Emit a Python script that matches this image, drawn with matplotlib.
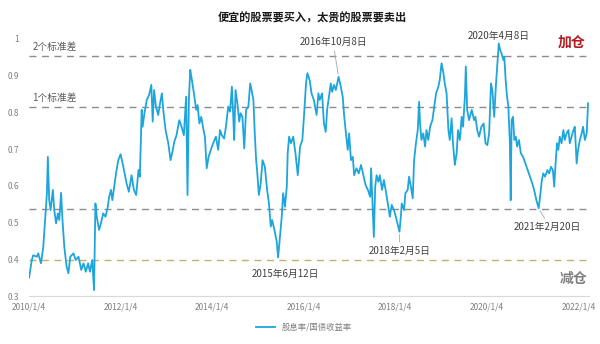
from datetime import datetime
import matplotlib
matplotlib.use("Agg")
import matplotlib.pyplot as plt
import matplotlib.dates as mdates

plt.rcParams['font.family'] = ['Noto Sans CJK SC', 'DejaVu Sans']

# dividend yield / bond yield ratio, sampled along the curve (decimal year, ratio)
years = [
    2010.01, 2010.07, 2010.10, 2010.18, 2010.21, 2010.27, 2010.32, 2010.36, 2010.40, 2010.42,
    2010.45, 2010.48, 2010.53, 2010.56, 2010.60, 2010.64, 2010.67, 2010.71, 2010.74, 2010.78,
    2010.83, 2010.87, 2010.91, 2010.98, 2011.03, 2011.09, 2011.15, 2011.20, 2011.25, 2011.30,
    2011.34, 2011.39, 2011.43, 2011.46, 2011.49, 2011.54, 2011.58, 2011.63, 2011.68, 2011.73,
    2011.76, 2011.80, 2011.83, 2011.87, 2011.91, 2011.96, 2012.01, 2012.07, 2012.14, 2012.19,
    2012.25, 2012.30, 2012.35, 2012.40, 2012.43, 2012.47, 2012.49, 2012.53, 2012.58, 2012.63,
    2012.68, 2012.71, 2012.74, 2012.78, 2012.83, 2012.87, 2012.91, 2012.94, 2012.99, 2013.05,
    2013.10, 2013.15, 2013.18, 2013.23, 2013.29, 2013.34, 2013.39, 2013.44, 2013.47, 2013.50,
    2013.53, 2013.56, 2013.61, 2013.66, 2013.69, 2013.73, 2013.77, 2013.82, 2013.85, 2013.89,
    2013.93, 2013.98, 2014.03, 2014.09, 2014.14, 2014.18, 2014.22, 2014.27, 2014.31, 2014.36,
    2014.40, 2014.44, 2014.47, 2014.49, 2014.52, 2014.56, 2014.60, 2014.63, 2014.67, 2014.71,
    2014.75, 2014.80, 2014.84, 2014.87, 2014.91, 2014.94, 2014.97, 2014.99, 2015.03, 2015.07,
    2015.11, 2015.16, 2015.21, 2015.25, 2015.29, 2015.32, 2015.37, 2015.40, 2015.42, 2015.45,
    2015.53, 2015.56, 2015.60, 2015.64, 2015.66, 2015.69, 2015.73, 2015.78, 2015.83, 2015.88,
    2015.93, 2015.98, 2016.02, 2016.06, 2016.09, 2016.14, 2016.18, 2016.23, 2016.29, 2016.33,
    2016.36, 2016.41, 2016.45, 2016.49, 2016.52, 2016.56, 2016.60, 2016.63, 2016.67, 2016.71,
    2016.77, 2016.81, 2016.86, 2016.89, 2016.93, 2016.97, 2017.00, 2017.04, 2017.08, 2017.11,
    2017.16, 2017.21, 2017.26, 2017.31, 2017.36, 2017.41, 2017.46, 2017.48, 2017.51, 2017.54,
    2017.57, 2017.60, 2017.64, 2017.67, 2017.72, 2017.76, 2017.81, 2017.86, 2017.89, 2017.93,
    2017.98, 2018.02, 2018.10, 2018.13, 2018.15, 2018.20, 2018.23, 2018.28, 2018.31, 2018.35,
    2018.39, 2018.42, 2018.46, 2018.50, 2018.53, 2018.55, 2018.58, 2018.62, 2018.66, 2018.69,
    2018.73, 2018.77, 2018.82, 2018.86, 2018.90, 2018.95, 2018.98, 2019.02, 2019.06, 2019.09,
    2019.13, 2019.17, 2019.20, 2019.24, 2019.27, 2019.31, 2019.35, 2019.38, 2019.42, 2019.46,
    2019.49, 2019.53, 2019.55, 2019.58, 2019.62, 2019.68, 2019.73, 2019.76, 2019.80, 2019.84,
    2019.89, 2019.94, 2019.98, 2020.02, 2020.06, 2020.10, 2020.13, 2020.17, 2020.21, 2020.27,
    2020.30, 2020.33, 2020.37, 2020.39, 2020.42, 2020.45, 2020.48, 2020.49, 2020.51, 2020.53,
    2020.55, 2020.58, 2020.61, 2020.64, 2020.67, 2020.71, 2020.75, 2020.80, 2020.85, 2020.90,
    2020.95, 2021.00, 2021.04, 2021.09, 2021.14, 2021.17, 2021.21, 2021.24, 2021.28, 2021.33,
    2021.37, 2021.41, 2021.45, 2021.48, 2021.51, 2021.54, 2021.57, 2021.60, 2021.64, 2021.68,
    2021.71, 2021.75, 2021.79, 2021.82, 2021.86, 2021.90, 2021.93, 2021.97, 2022.00, 2022.04,
    2022.08, 2022.11, 2022.15, 2022.19, 2022.22,
]
ratio = [
    0.350, 0.398, 0.411, 0.407, 0.416, 0.389, 0.434, 0.507, 0.580, 0.679,
    0.561, 0.534, 0.589, 0.534, 0.498, 0.525, 0.507, 0.581, 0.507, 0.434,
    0.380, 0.362, 0.407, 0.416, 0.398, 0.407, 0.371, 0.389, 0.366, 0.389,
    0.366, 0.398, 0.316, 0.552, 0.516, 0.480, 0.498, 0.525, 0.516, 0.543,
    0.570, 0.589, 0.561, 0.598, 0.634, 0.670, 0.686, 0.652, 0.607, 0.584,
    0.629, 0.589, 0.575, 0.643, 0.625, 0.807, 0.761, 0.798, 0.834, 0.847,
    0.875, 0.775, 0.861, 0.816, 0.793, 0.825, 0.852, 0.807, 0.752, 0.716,
    0.670, 0.698, 0.720, 0.738, 0.779, 0.761, 0.738, 0.843, 0.575, 0.834,
    0.916, 0.893, 0.852, 0.807, 0.820, 0.770, 0.788, 0.752, 0.734, 0.648,
    0.679, 0.698, 0.716, 0.734, 0.698, 0.752, 0.738, 0.729, 0.761, 0.816,
    0.802, 0.870, 0.788, 0.725, 0.861, 0.825, 0.775, 0.798, 0.788, 0.702,
    0.807, 0.816, 0.879, 0.861, 0.834, 0.743, 0.670, 0.643, 0.575, 0.607,
    0.670, 0.652, 0.589, 0.552, 0.489, 0.507, 0.480, 0.461, 0.448, 0.405,
    0.516, 0.580, 0.543, 0.598, 0.689, 0.734, 0.716, 0.734, 0.689, 0.629,
    0.707, 0.725, 0.798, 0.879, 0.907, 0.888, 0.852, 0.834, 0.793, 0.852,
    0.834, 0.852, 0.770, 0.747, 0.807, 0.843, 0.879, 0.856, 0.875, 0.861,
    0.897, 0.875, 0.843, 0.793, 0.743, 0.698, 0.743, 0.670, 0.679, 0.629,
    0.648, 0.634, 0.657, 0.629, 0.602, 0.589, 0.570, 0.648, 0.552, 0.461,
    0.598, 0.629, 0.611, 0.629, 0.589, 0.616, 0.580, 0.539, 0.516, 0.548,
    0.534, 0.516, 0.475, 0.516, 0.552, 0.534, 0.580, 0.589, 0.625, 0.598,
    0.566, 0.670, 0.716, 0.752, 0.829, 0.770, 0.725, 0.743, 0.707, 0.752,
    0.725, 0.761, 0.779, 0.816, 0.852, 0.870, 0.888, 0.934, 0.907, 0.879,
    0.852, 0.752, 0.725, 0.784, 0.716, 0.657, 0.689, 0.752, 0.725, 0.788,
    0.761, 0.843, 0.925, 0.807, 0.779, 0.807, 0.779, 0.788, 0.752, 0.734,
    0.761, 0.770, 0.716, 0.711, 0.743, 0.879, 0.861, 0.788, 0.879, 0.988,
    0.970, 0.961, 0.943, 0.952, 0.888, 0.843, 0.816, 0.779, 0.725, 0.561,
    0.779, 0.788, 0.725, 0.734, 0.707, 0.725, 0.689, 0.679, 0.661, 0.643,
    0.625, 0.607, 0.589, 0.561, 0.539, 0.570, 0.616, 0.634, 0.625, 0.643,
    0.634, 0.652, 0.643, 0.598, 0.661, 0.716, 0.698, 0.734, 0.716, 0.752,
    0.725, 0.743, 0.752, 0.716, 0.734, 0.752, 0.761, 0.661, 0.698, 0.725,
    0.743, 0.761, 0.725, 0.743, 0.825,
]

# mean and standard deviation of the ratio, used for the reference bands
mean_ratio = 0.675
std_ratio = 0.139

tick_dates = ["2010/1/4", "2012/1/4", "2014/1/4", "2016/1/4", "2018/1/4", "2020/1/4", "2022/1/4"]
y_ticks = [0.3, 0.4, 0.5, 0.6, 0.7, 0.8, 0.9, 1.0]
y_tick_labels = ["0.3", "0.4", "0.5", "0.6", "0.7", "0.8", "0.9", "1"]

# (label, date marked, text position as decimal year, text height)
callouts = [
    ("2016年10月8日", 2016.77, 2016.65, 0.992),
    ("2020年4月8日", 2020.27, 2020.27, 1.008),
    ("2015年6月12日", 2015.45, 2015.60, 0.360),
    ("2018年2月5日", 2018.10, 2018.10, 0.424),
    ("2021年2月20日", 2021.14, 2021.32, 0.489),
]


def to_date(y):
    year = int(y)
    start = datetime(year, 1, 1)
    end = datetime(year + 1, 1, 1)
    return start + (end - start) * (y - year)


dates = [to_date(y) for y in years]

fig = plt.figure(figsize=(6, 3.44), dpi=100)
ax = fig.add_axes([29 / 600, 1 - 296 / 344, 560 / 600, 257 / 344])

line, = ax.plot(dates, ratio, color="#1ea5dc", lw=1.3, label="股息率/国债收益率", zorder=3)

# +/- 1 and 2 standard deviation bands
band_colors = {2: "#8c8c8c", 1: "#8c8c8c", -1: "#8c8c8c", -2: "#b9b46e"}
for k, c in band_colors.items():
    ax.axhline(mean_ratio + k * std_ratio, color=c, lw=1.0, ls=(0, (5, 4)), zorder=2)

ax.text(to_date(2010.08), mean_ratio + 2 * std_ratio + 0.026, "2个标准差",
        fontsize=7, color="#595959", va="center")
ax.text(to_date(2010.08), mean_ratio + std_ratio + 0.026, "1个标准差",
        fontsize=7, color="#595959", va="center")

for label, d, tx, ty in callouts:
    i = years.index(d)
    ax.text(to_date(tx), ty, label, fontsize=7, color="#404040",
            ha="center", va="center", zorder=4)
    if label == "2016年10月8日":
        ax.annotate("", xy=(dates[i], ratio[i]), xytext=(to_date(2016.67), 0.975),
                    arrowprops=dict(arrowstyle="-", color="#a6a6a6", lw=0.6))
    elif label == "2021年2月20日":
        ax.annotate("", xy=(dates[i], ratio[i]), xytext=(to_date(2021.30), 0.505),
                    arrowprops=dict(arrowstyle="-", color="#a6a6a6", lw=0.6))
    elif label == "2018年2月5日":
        ax.annotate("", xy=(dates[i], ratio[i]), xytext=(to_date(2018.10), 0.440),
                    arrowprops=dict(arrowstyle="-", color="#a6a6a6", lw=0.6))

fig.text(572 / 600, 1 - 43 / 344, "加仓", fontsize=10, fontweight="bold",
         color="#b01e23", ha="center", va="center")
fig.text(574 / 600, 1 - 279 / 344, "减仓", fontsize=10, fontweight="bold",
         color="#7f7f7f", ha="center", va="center")
fig.text(312 / 600, 1 - 18 / 344, "便宜的股票要买入，太贵的股票要卖出",
         fontsize=8, fontweight="bold", color="#1a1a1a", ha="center", va="center")

ax.set_xlim(to_date(2010.01), to_date(2022.24))
ax.set_ylim(0.3, 1.0)
ax.set_xticks([datetime.strptime(s, "%Y/%m/%d") for s in tick_dates])
ax.set_xticklabels(tick_dates)
ax.set_yticks(y_ticks)
ax.set_yticklabels(y_tick_labels)
ax.tick_params(axis="both", length=0, labelsize=6, labelcolor="#7f7f7f")
ax.tick_params(axis="x", pad=5)
ax.tick_params(axis="y", pad=7)
for side in ["top", "right", "left"]:
    ax.spines[side].set_visible(False)
ax.spines["bottom"].set_color("#d9d9d9")
ax.spines["bottom"].set_linewidth(0.8)

fig.legend(handles=[line], loc="center", bbox_to_anchor=(304 / 600, 1 - 327 / 344),
           frameon=False, fontsize=6, handlelength=2.2, labelcolor="#7f7f7f")

fig.savefig("out.png", dpi=100)
